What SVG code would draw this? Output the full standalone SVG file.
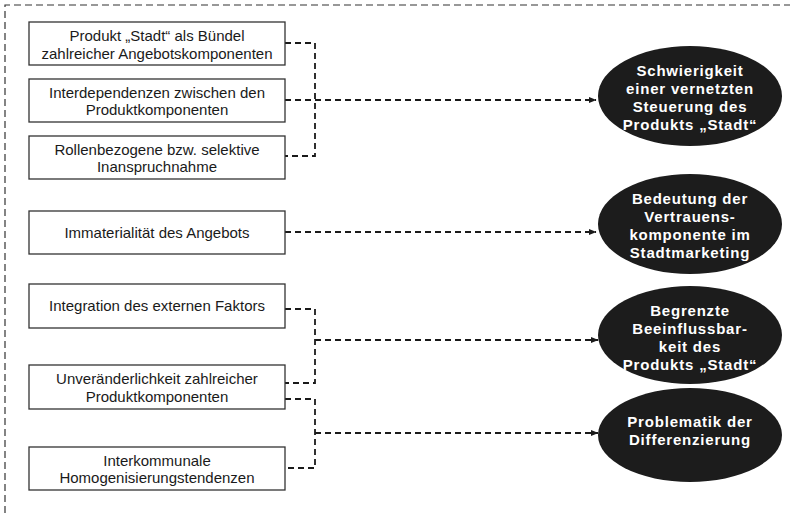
<svg xmlns="http://www.w3.org/2000/svg" width="790" height="513" viewBox="0 0 790 513">
  <defs>
    <marker id="arr" viewBox="0 0 8 8" refX="7.5" refY="4" markerWidth="8" markerHeight="8" markerUnits="userSpaceOnUse" orient="auto">
      <path d="M0,0.8 L8,4 L0,7.2 Z" fill="#1a1a1a"/>
    </marker>
  </defs>
  <style>
    .frame { fill: none; stroke: #333; stroke-width: 1.2; stroke-dasharray: 7 4; }
    .box { fill: #fff; stroke: #333; stroke-width: 1.3; }
    .btxt { font-family: "Liberation Sans", Arial, sans-serif; font-size: 15px; fill: #1a1a1a; text-anchor: middle; }
    .ell { fill: #1c1c1c; }
    .etxt { font-family: "Liberation Sans", Arial, sans-serif; font-size: 15px; font-weight: bold; fill: #fff; text-anchor: middle; letter-spacing: 0.8px; }
    .con { fill: none; stroke: #1a1a1a; stroke-width: 1.8; stroke-dasharray: 6 4; }
  </style>
  <rect width="790" height="513" fill="#fff"/>
  <path class="frame" d="M5,513 V5 H790"/>

  <g id="connectors">
    <path class="con" d="M285,43 H315 V156 H285"/>
    <path class="con" d="M285,100 H596" marker-end="url(#arr)"/>
    <path class="con" d="M285,232 H596" marker-end="url(#arr)"/>
    <path class="con" d="M285,309 H315 V383 H285"/>
    <path class="con" d="M315,340 H598" marker-end="url(#arr)"/>
    <path class="con" d="M285,399 H315 V468 H285"/>
    <path class="con" d="M315,433 H598" marker-end="url(#arr)"/>
  </g>

  <g id="box1">
    <rect class="box" x="29" y="22" width="256" height="43"/>
    <text class="btxt" x="157" y="41">Produkt „Stadt“ als Bündel</text>
    <text class="btxt" x="157" y="58.5">zahlreicher Angebotskomponenten</text>
  </g>
  <g id="box2">
    <rect class="box" x="29" y="79" width="256" height="43"/>
    <text class="btxt" x="157" y="97.5">Interdependenzen zwischen den</text>
    <text class="btxt" x="157" y="115">Produktkomponenten</text>
  </g>
  <g id="box3">
    <rect class="box" x="29" y="136" width="256" height="43"/>
    <text class="btxt" x="157" y="154.5">Rollenbezogene bzw. selektive</text>
    <text class="btxt" x="157" y="172">Inanspruchnahme</text>
  </g>
  <g id="box4">
    <rect class="box" x="29" y="211" width="256" height="43"/>
    <text class="btxt" x="157" y="237.5">Immaterialität des Angebots</text>
  </g>
  <g id="box5">
    <rect class="box" x="29" y="284" width="256" height="44"/>
    <text class="btxt" x="157" y="311">Integration des externen Faktors</text>
  </g>
  <g id="box6">
    <rect class="box" x="29" y="365" width="256" height="44"/>
    <text class="btxt" x="157" y="384">Unveränderlichkeit zahlreicher</text>
    <text class="btxt" x="157" y="401.5">Produktkomponenten</text>
  </g>
  <g id="box7">
    <rect class="box" x="29" y="447" width="256" height="43"/>
    <text class="btxt" x="157" y="465.5">Interkommunale</text>
    <text class="btxt" x="157" y="483">Homogenisierungstendenzen</text>
  </g>

  <g id="ell1">
    <ellipse class="ell" cx="690" cy="96" rx="92" ry="50"/>
    <text class="etxt" x="690" y="76">Schwierigkeit</text>
    <text class="etxt" x="690" y="94">einer vernetzten</text>
    <text class="etxt" x="690" y="112">Steuerung des</text>
    <text class="etxt" x="690" y="130">Produkts „Stadt“</text>
  </g>
  <g id="ell2">
    <ellipse class="ell" cx="690" cy="224" rx="92" ry="50"/>
    <text class="etxt" x="690" y="204">Bedeutung der</text>
    <text class="etxt" x="690" y="222">Vertrauens-</text>
    <text class="etxt" x="690" y="240">komponente im</text>
    <text class="etxt" x="690" y="258">Stadtmarketing</text>
  </g>
  <g id="ell3">
    <ellipse class="ell" cx="690" cy="335" rx="92" ry="49"/>
    <text class="etxt" x="690" y="316">Begrenzte</text>
    <text class="etxt" x="690" y="334">Beeinflussbar-</text>
    <text class="etxt" x="690" y="352">keit des</text>
    <text class="etxt" x="690" y="370">Produkts „Stadt“</text>
  </g>
  <g id="ell4">
    <ellipse class="ell" cx="690" cy="435" rx="92" ry="47"/>
    <text class="etxt" x="690" y="427">Problematik der</text>
    <text class="etxt" x="690" y="445">Differenzierung</text>
  </g>
</svg>
